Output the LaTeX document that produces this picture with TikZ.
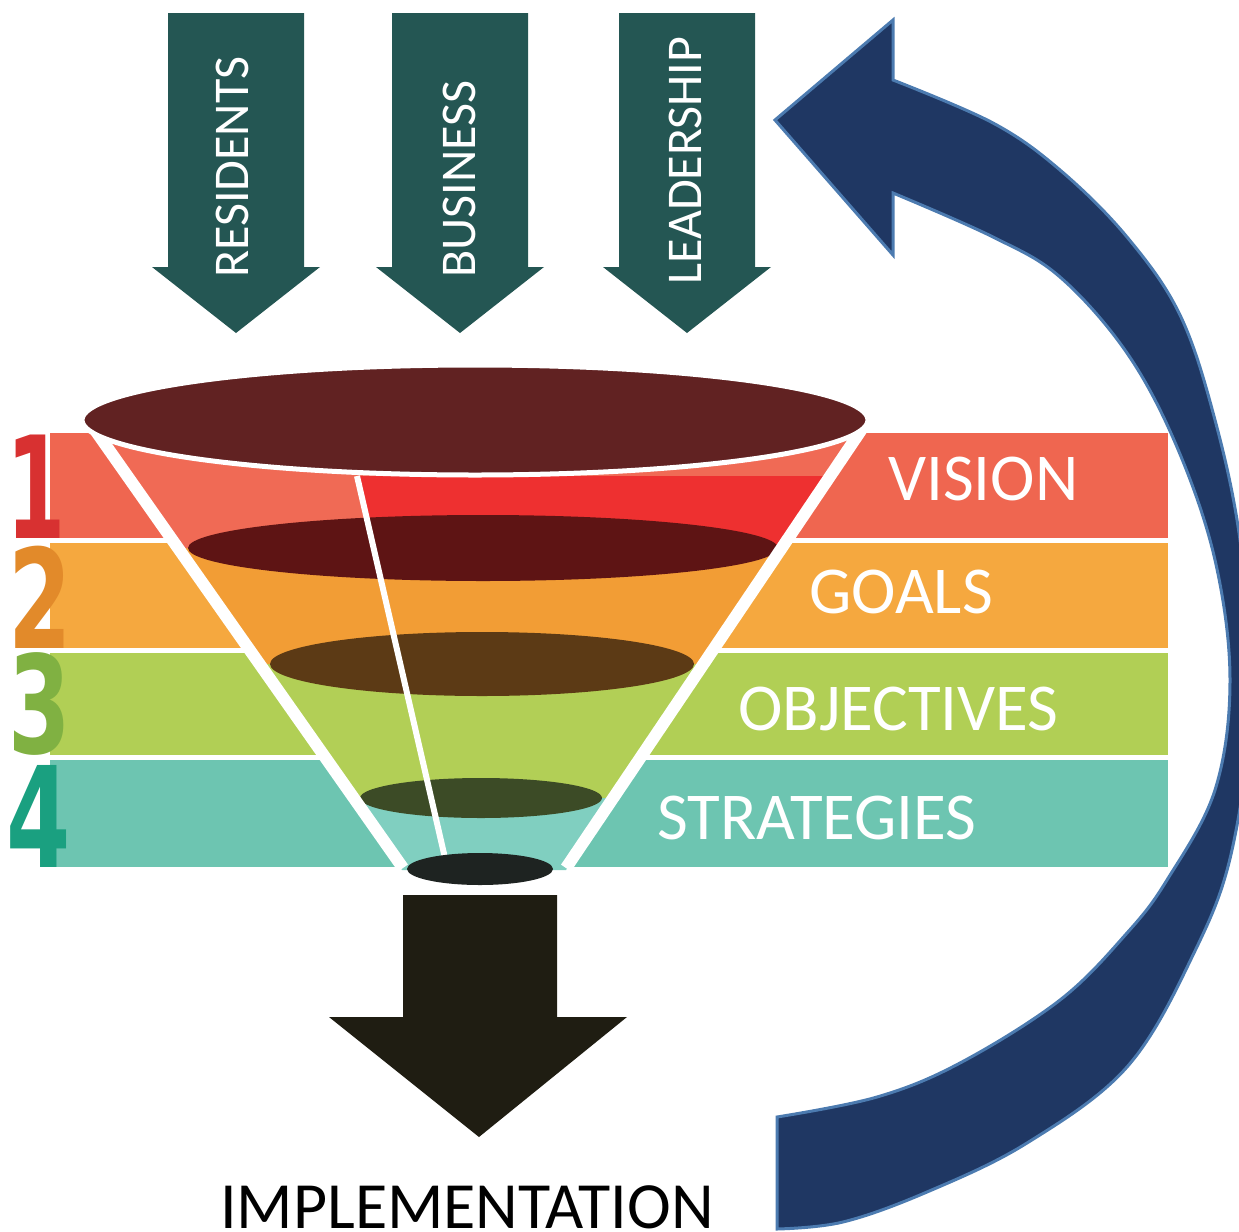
\documentclass[tikz,border=0pt]{standalone}
\usepackage{fontspec}
\setmainfont{Carlito}
\newfontfamily\digitfont{DejaVu Sans}
\definecolor{arrowteal}{HTML}{245653}
\definecolor{bandred}{HTML}{EF6650}
\definecolor{bandorange}{HTML}{F5A83F}
\definecolor{bandgreen}{HTML}{B1CF55}
\definecolor{bandteal}{HTML}{6DC5B1}
\definecolor{digitred}{HTML}{D83131}
\definecolor{digitorange}{HTML}{E28A2A}
\definecolor{digitgreen}{HTML}{80B142}
\definecolor{digitteal}{HTML}{1AA080}
\definecolor{rimtop}{HTML}{612222}
\definecolor{funred}{HTML}{EE3030}
\definecolor{funcoral}{HTML}{F06A55}
\definecolor{funorange}{HTML}{F29D35}
\definecolor{fungreen}{HTML}{B2CF56}
\definecolor{funteal}{HTML}{80CFC0}
\definecolor{discred}{HTML}{5E1414}
\definecolor{discbrown}{HTML}{5C3A15}
\definecolor{discolive}{HTML}{3C4B26}
\definecolor{discblack}{HTML}{1E2321}
\definecolor{outarrow}{HTML}{1F1D12}
\definecolor{loopfill}{HTML}{1F3763}
\definecolor{loopedge}{HTML}{4C7BB0}
\tikzset{
  sourcearrow/.pic={
    \fill[arrowteal] (-68,-320) -- (68,-320) -- (68,-66) -- (84,-66)
      -- (0,0) -- (-84,-66) -- (-68,-66) -- cycle;
  },
  sourcetext/.style={rotate=90, anchor=base west, inner sep=0pt, text=white,
    font=\fontsize{50bp}{54bp}\selectfont},
  bandlabel/.style={anchor=base west, inner sep=0pt, text=white,
    font=\fontsize{67bp}{70bp}\selectfont},
  digit/.style={anchor=base west, inner sep=0pt},
  whiteedge/.style={draw=white, line width=12bp},
}
\begin{document}
\begin{tikzpicture}[x=1bp, y=-1bp]
\useasboundingbox (0,0) rectangle (1239,1232);
\clip (0,0) rectangle (1239,1232);

% stakeholder input arrows
\pic at (236,333) {sourcearrow};
\pic at (460,333) {sourcearrow};
\pic at (687,333) {sourcearrow};
\node[sourcetext] (residents) at (248,278) {RESIDENTS};
\node[sourcetext] (business) at (475,278) {BUSINESS};
\node[sourcetext] (leadership) at (701,285) {LEADERSHIP};

% coloured bands behind the funnel
\fill[bandred]    (50,433) rectangle (1168,538);
\fill[bandorange] (50,543) rectangle (1168,648);
\fill[bandgreen]  (50,653) rectangle (1168,755);
\fill[bandteal]   (50,760) rectangle (1168,867);

% band numbers
\node[digit, text=digitred]    (d1) at (6,538) {\scalebox{0.6}[1]{\digitfont\bfseries\fontsize{142bp}{100bp}\selectfont 1}};
\node[digit, text=digitorange] (d2) at (8,648) {\scalebox{0.66}[1]{\digitfont\bfseries\fontsize{138bp}{100bp}\selectfont 2}};
\node[digit, text=digitgreen]  (d3) at (8,753) {\scalebox{0.66}[1]{\digitfont\bfseries\fontsize{136bp}{100bp}\selectfont 3}};
\node[digit, text=digitteal]   (d4) at (6,867) {\scalebox{0.66}[1]{\digitfont\bfseries\fontsize{140bp}{100bp}\selectfont 4}};

% funnel body
\begin{scope}
  \clip (92,420) -- (868,420) -- (566,870) -- (402,870) -- cycle;
  \fill[funcoral] (80,400) rectangle (900,548);
  \fill[funred] (357,476) -- (900,476) -- (900,548) -- (374,548) -- cycle;
  \fill[funorange] (80,548) rectangle (900,664);
  \fill[fungreen] (80,664) rectangle (900,798);
  \fill[funteal] (80,798) rectangle (900,880);
\end{scope}
\fill[discred]   (483,548) ellipse [x radius=295, y radius=33];
\fill[discbrown] (482,664) ellipse [x radius=212, y radius=32];
\fill[discolive] (481,798) ellipse [x radius=121, y radius=20];

% funnel walls
\draw[whiteedge] (88,420) -- (403,868);
\draw[whiteedge] (868,420) -- (566,868);
\draw[white, line width=6bp] (357,476) -- (451,884);
\fill[discblack] (480,869) ellipse [x radius=73, y radius=16];
\filldraw[fill=rimtop, draw=white, line width=5bp] (475,420) ellipse [x radius=393, y radius=55];

% band labels
\node[bandlabel] (vision) at (888,500) {VISION};
\node[bandlabel] (goals) at (809,613) {GOALS};
\node[bandlabel] (objectives) at (738,730) {OBJECTIVES};
\node[bandlabel] (strategies) at (657,839) {STRATEGIES};

% output arrow
\fill[outarrow] (403,895) -- (557,895) -- (557,1017) -- (627,1017)
  -- (479,1137) -- (329,1017) -- (403,1017) -- cycle;
\node[anchor=base west, inner sep=0pt, font=\fontsize{66bp}{68bp}\selectfont]
  (impl) at (220,1228) {IMPLEMENTATION};

% feedback loop arrow
\filldraw[fill=loopfill, draw=loopedge, line width=3bp, line join=miter]
  (777,1229) -- plot[smooth, tension=0.6] coordinates {
    (777,1229) (843,1222) (927,1192) (1027,1143) (1127,1067) (1193,955)
    (1232,850) (1252,690) (1240,540) (1215,420) (1180,315) (1127,237)
    (1060,170) (993,123) (893,80)}
  -- (893,20) -- (775,120) -- (893,255) -- (893,193)
  -- plot[smooth, tension=0.6] coordinates {
    (893,193) (993,237) (1060,277) (1127,353) (1177,447) (1215,560)
    (1230,680) (1215,790) (1167,880) (1127,933) (1060,1000) (960,1063)
    (877,1097) (777,1117)}
  -- cycle;
\end{tikzpicture}
\end{document}
